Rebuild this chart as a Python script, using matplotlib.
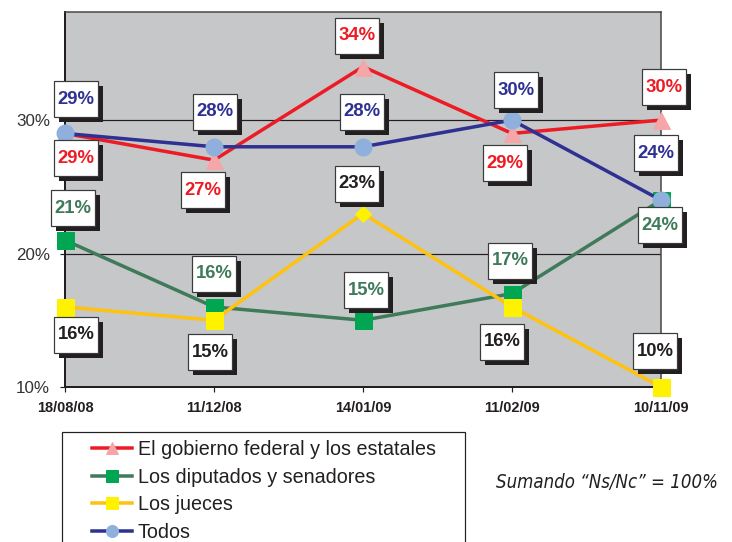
import matplotlib
matplotlib.use('Agg')
import matplotlib.pyplot as plt
from matplotlib.path import Path
from matplotlib.patches import Rectangle
import matplotlib.patheffects as pe

# ---------------- data ----------------
dates = ['18/08/08', '11/12/08', '14/01/09', '11/02/09', '10/11/09']
gobierno = [29, 27, 34, 29, 30]
diputados = [21, 16, 15, 17, 24]
jueces = [16, 15, 23, 16, 10]
todos = [29, 28, 28, 30, 24]
names = ['El gobierno federal y los estatales', 'Los diputados y senadores',
         'Los jueces', 'Todos']
yticks = [10, 20, 30]
note = 'Sumando \u201cNs/Nc\u201d = 100%'

# ---------------- styles ----------------
line_colors = ['#ED1C24', '#3F7A5A', '#FFC20E', '#2E3192']
marker_colors = ['#F4A6A8', '#00A651', '#FFF200', '#8FB0DD']
text_colors = ['#ED1C24', '#3F7A5A', '#231F20', '#2E3192']
markers = ['^', 's', 's', 'o']
msizes = [17, 17, 17, 17]
# label offsets (points) for each series / point
offsets = [
    [(11, -25), (-11, -30), (-6, 31), (-7, -30), (3, 33)],
    [(8, 32), (0, 33), (3, 30), (-2, 33), (-1, -25)],
    [(11, -28), (-4, -32), (-6, 30), (-10, -35), (-6, 36)],
    [(11, 34), (1, 35), (-1, 35), (4, 30), (-5, 47)],
]

plt.rcParams['font.family'] = ['Liberation Sans', 'DejaVu Sans']

W, H = 732, 542
fig = plt.figure(figsize=(W / 72, H / 72), dpi=72)
ax = fig.add_axes([65 / W, (H - 387) / H, 596 / W, 375 / H])
ax.set_facecolor('#C6C7C9')
ax.set_xlim(0, 4)
ax.set_ylim(10, 38.1)

x = list(range(len(dates)))
series = [gobierno, diputados, jueces, todos]
for k, vals in enumerate(series):
    if k == 2:
        ax.plot(x, vals, color=line_colors[k], lw=3.5, marker=markers[k],
                markersize=msizes[k], markerfacecolor=marker_colors[k],
                markeredgecolor=marker_colors[k], markevery=[0, 1, 3, 4],
                clip_on=False, zorder=3 + k)
        ax.plot([x[2]], [vals[2]], linestyle='none', marker='D', markersize=12,
                markerfacecolor=marker_colors[k], markeredgecolor=marker_colors[k],
                clip_on=False, zorder=3 + k)
    else:
        ax.plot(x, vals, color=line_colors[k], lw=3.5, marker=markers[k],
                markersize=msizes[k], markerfacecolor=marker_colors[k],
                markeredgecolor=marker_colors[k], clip_on=False,
                zorder=3 + k)


def label_box(x0, y0, width, height, mutation_size):
    px, py = 3.5, 9.5
    a0, b0 = x0 - px, y0 - py
    a1, b1 = x0 + width + px, y0 + height + py
    return Path([(a0, b0), (a1, b0), (a1, b1), (a0, b1), (a0, b0)], closed=True)


for k, vals in enumerate(series):
    for i, v in enumerate(vals):
        dx, dy = offsets[k][i]
        t = ax.annotate(f'{v}%', xy=(x[i], v), xytext=(dx, dy),
                        textcoords='offset points', ha='center', va='center',
                        fontsize=18.5, fontweight='bold', color=text_colors[k],
                        zorder=20, annotation_clip=False,
                        bbox=dict(boxstyle=label_box, fc='white', ec='#3a3a3a', lw=1.2))
        t.get_bbox_patch().set_path_effects([
            pe.SimplePatchShadow(offset=(5, -5), shadow_rgbFace='#231F20', alpha=1.0),
            pe.Normal()])

ax.set_yticks(yticks)
ax.set_yticklabels([f'{v}%' for v in yticks])
ax.set_xticks(x)
ax.set_xticklabels(dates)
ax.yaxis.grid(True, color='#231F20', lw=1.2)
ax.set_axisbelow(True)
ax.tick_params(axis='y', direction='out', length=5, width=1.2, pad=10,
               labelsize=17, labelcolor='#333333', color='#231F20')
ax.tick_params(axis='x', direction='out', length=5, width=1.2, pad=9,
               labelsize=14.5, color='#231F20')
for lab in ax.get_xticklabels():
    lab.set_fontweight('bold')
    lab.set_color('#231F20')
for s in ['top', 'right']:
    ax.spines[s].set_color('#444444')
    ax.spines[s].set_linewidth(1.5)
for s in ['left', 'bottom']:
    ax.spines[s].set_color('#231F20')
    ax.spines[s].set_linewidth(2)

# legend (frame drawn manually, cut by figure bottom)
fig.patches.append(Rectangle((62 / W, -0.02), (465 - 62) / W, (H - 432) / H + 0.02,
                             transform=fig.transFigure, fill=False,
                             ec='#231F20', lw=1.2, zorder=0))
leg_handles = []
for k in range(4):
    h, = ax.plot([], [], color=line_colors[k], lw=3.5, marker=markers[k],
                 markersize=12, markerfacecolor=marker_colors[k],
                 markeredgecolor=marker_colors[k])
    leg_handles.append(h)
leg = fig.legend(leg_handles, names, loc='upper left',
                 bbox_to_anchor=(92 / W, (H - 440) / H), frameon=False,
                 fontsize=19.8, handlelength=2.0, handletextpad=0.3,
                 labelspacing=0.44, borderpad=0, borderaxespad=0)
for t in leg.get_texts():
    t.set_color('#231F20')

fig.text(607 / W, 1 - 482 / H, note, ha='center', va='center', fontsize=18.5,
         style='italic', family='DejaVu Sans', fontstretch='condensed',
         color='#231F20')

fig.savefig('out.png', dpi=72)
